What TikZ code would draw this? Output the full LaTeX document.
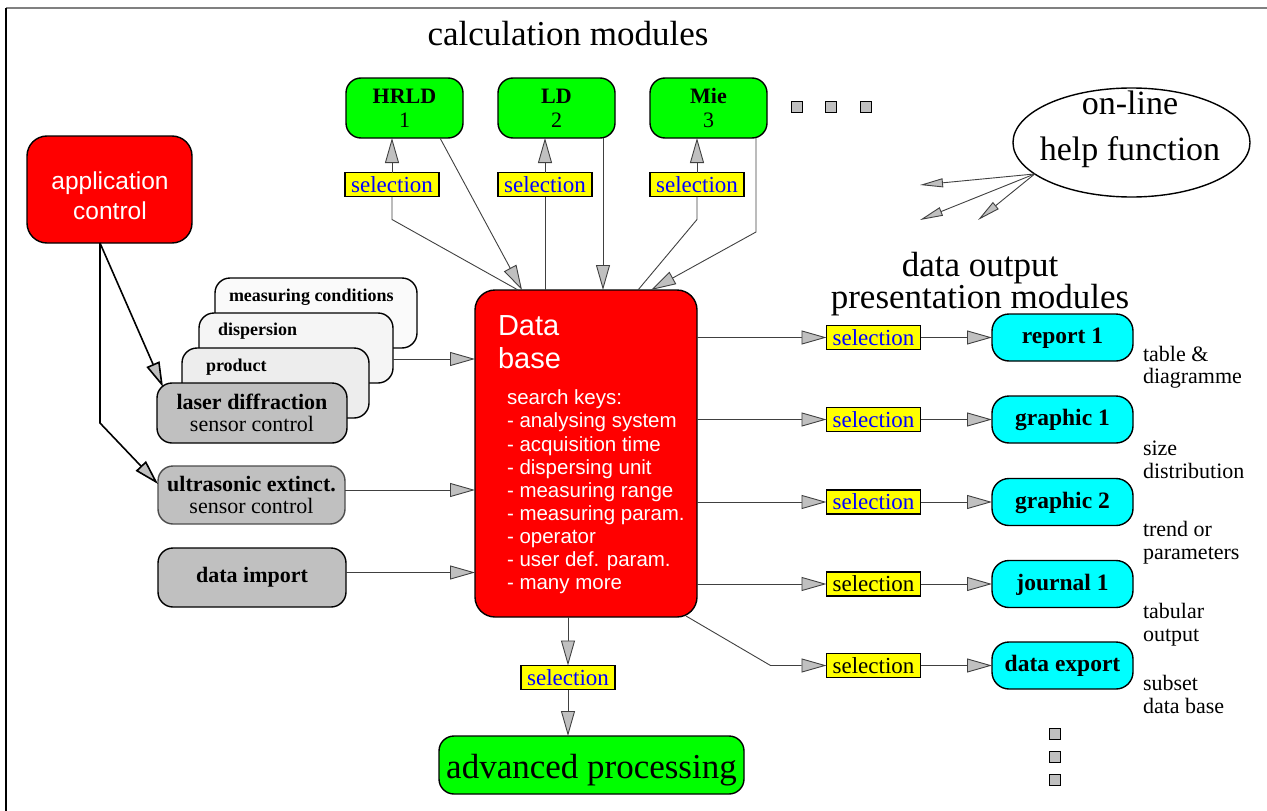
\documentclass[tikz,border=0pt]{standalone}
\usepackage{fontspec}
\setmainfont{Liberation Serif}
\newfontfamily\dbsans{Liberation Sans}
\usetikzlibrary{arrows.meta,shapes.geometric,calc}
\definecolor{boxred}{HTML}{FF0000}
\definecolor{boxgreen}{HTML}{00FF00}
\definecolor{boxcyan}{HTML}{00FFFF}
\definecolor{selyellow}{HTML}{FFFF00}
\definecolor{selblue}{HTML}{0000FF}
\definecolor{boxgray}{HTML}{C0C0C0}
\definecolor{tipgray}{HTML}{C0C0C0}
\definecolor{linegray}{HTML}{404040}
\newcommand\pxfont[2]{\fontsize{#1}{#2}\selectfont}
\begin{document}
\begin{tikzpicture}[x=1pt,y=-1pt,
  every node/.style={inner sep=0pt, outer sep=0pt},
  wh/.style n args={2}{minimum width=#1pt, minimum height=#2pt},
  rbox/.style={draw=black, line width=1.4pt, rounded corners=#1, align=center},
  calcbox/.style={rbox=15pt, fill=boxgreen, font=\pxfont{22}{24}},
  outbox/.style={rbox=17pt, fill=boxcyan, font=\pxfont{23.5}{24}\bfseries, wh={141}{47},
    text height=16pt, text depth=4pt},
  graybox/.style={rbox=15pt, fill=boxgray, font=\pxfont{22}{22}},
  stackbox/.style={rbox=15pt},
  stacklabel/.style={anchor=west, font=\pxfont{18}{20}\bfseries},
  sel/.style={draw=black, line width=1.3pt, fill=selyellow, wh={94}{24},
    font=\pxfont{23}{24}, text=selblue},
  selk/.style={sel, text=black},
  note/.style={anchor=west, align=left, font=\pxfont{22}{22.5}},
  dots/.style={draw=black, line width=1.1pt, fill=boxgray, wh={11}{11}},
  conn/.style={draw=linegray, line width=0.9pt},
  tip/.style={-{Triangle[length=25pt,width=14pt,fill=tipgray]}},
  smalltip/.style={-{Triangle[length=23pt,width=9pt,fill=tipgray]}},
  ctrl/.style={draw=black, line width=1.6pt}
]
\useasboundingbox (0,0) rectangle (1267,811);
% page frame (top and left edges only)
\draw[gray, line width=1.5pt] (6,8) -- (1267,8);
\draw[black, line width=1.5pt] (6,8) -- (6,811);

% ---------- titles ----------
\node[font=\pxfont{35}{36}] (ttlcalc) at (568,34) {calculation modules};
\node[align=center, font=\pxfont{35}{31}] (ttlout) at (980,284) {data output\\presentation modules};

% ---------- calculation modules ----------
\node[calcbox, wh={117}{60}] (hrld) at (404.5,108) {\textbf{HRLD}\\1};
\node[calcbox, wh={117}{60}] (ld)   at (556.5,108) {\textbf{LD}\\2};
\node[calcbox, wh={117}{60}] (mie)  at (708.5,108) {\textbf{Mie}\\3};
\node[dots] (cd1) at (797,107) {};
\node[dots] (cd2) at (831,107) {};
\node[dots] (cd3) at (866,107) {};

\node[sel] (shrld) at (392,184.5) {selection};
\node[sel] (sld)   at (545,184.5) {selection};
\node[sel] (smie)  at (697,184.5) {selection};

% ---------- help ----------
\node[draw=black, line width=1.4pt, ellipse, wh={237}{109}] (help) at (1131.5,142.5) {};
\node[align=center, font=\pxfont{34}{46}] (helptext) at (1130,129) {on-line\\help function};
\coordinate (h1) at (920,185);
\coordinate (h2) at (920,220);
\coordinate (h3) at (978,220);
\draw[conn, smalltip] (help.198) -- (h1);
\draw[conn, smalltip] (help.198) -- (h2);
\draw[conn, smalltip] (help.198) -- (h3);

% ---------- application control ----------
\node[rbox=20pt, fill=boxred, wh={165}{107}] (app) at (109.5,189.5) {};
\node[align=center, text=white, font=\dbsans\pxfont{24.5}{30}] (apptext)
  at (110,196) {application\\control};

% ---------- sensor stack ----------
\node[stackbox, fill=black!2, wh={202}{70}] (meas) at (316,313) {};
\node[stacklabel] (lmeas) at ($(meas.north west)+(14,19)$) {measuring conditions};
\node[stackbox, fill=black!4, wh={194}{70}] (disp) at (296,348) {};
\node[stacklabel] (ldisp) at ($(disp.north west)+(19,18)$) {dispersion};
\node[stackbox, fill=black!7, wh={187}{70}] (prod) at (275.5,383) {};
\node[stacklabel] (lprod) at ($(prod.north west)+(24,19)$) {product};
\node[graybox, wh={190}{60}] (laser) at (252,413) {\textbf{laser diffraction}\\sensor control};
\node[graybox, draw=black!70, wh={187}{58}] (ultra) at (251.5,495) {\textbf{ultrasonic extinct.}\\sensor control};
\node[graybox, wh={188}{59}] (import) at (252,577.5) {\textbf{data import}};

% ---------- data base ----------
\node[rbox=20pt, fill=boxred, wh={222}{327}] (db) at (586,453.5) {};
\node[anchor=north west, align=left, text=white, font=\dbsans\pxfont{29}{32.5}] (dbtitle)
  at (498,316) {Data\\base};
\node[anchor=north west, align=left, text=white, font=\dbsans\pxfont{20.5}{23.1}] (dbkeys)
  at (507,390) {search keys:\\- analysing system\\- acquisition time\\- dispersing unit\\
  - measuring range\\- measuring param.\\- operator\\- user def. param.\\- many more};

% ---------- output modules ----------
\node[sel]  (s1) at (873.5,337.5) {selection};
\node[sel]  (s2) at (873.5,419.5) {selection};
\node[sel]  (s3) at (873.5,502)   {selection};
\node[selk] (s4) at (873.5,584)   {selection};
\node[selk] (s5) at (873.5,665.5) {selection};
\node[outbox] (o1) at (1062.5,337.5) {report 1};
\node[outbox] (o2) at (1062.5,419.5) {graphic 1};
\node[outbox] (o3) at (1062.5,502)   {graphic 2};
\node[outbox] (o4) at (1062.5,584)   {journal 1};
\node[outbox] (o5) at (1062.5,665.5) {data export};
\node[note] (n1) at (1143,367) {table \&\\diagramme};
\node[note] (n2) at (1143,460) {size\\distribution};
\node[note] (n3) at (1143,542.5) {trend or\\parameters};
\node[note] (n4) at (1143,624.5) {tabular\\output};
\node[note] (n5) at (1143,694.5) {subset\\data base};
\node[dots] (od1) at (1055,734) {};
\node[dots] (od2) at (1055,757) {};
\node[dots] (od3) at (1055,780) {};

% ---------- advanced processing ----------
\node[sel] (sadv) at (568,677.5) {selection};
\node[rbox=15pt, fill=boxgreen, wh={305}{58}, font=\pxfont{35}{36},
  text height=30pt, text depth=4pt] (adv) at (591.5,765) {advanced processing};

% ---------- connectors: data base <-> calculation modules ----------
\draw[conn, tip] (shrld.north) -- (shrld.north |- hrld.south);
\draw[conn, tip] (sld.north) -- (sld.north |- ld.south);
\draw[conn, tip] (smie.north) -- (smie.north |- mie.south);
\draw[conn] ($(db.north west)+(43,0)$) -- ($(shrld.south)+(0,23)$) -- (shrld.south);
\draw[conn, tip] ($(hrld.south east)+(-23,0)$) -- ($(db.north west)+(47,0)$);
\draw[conn] (db.north -| sld.south) -- (sld.south);
\draw[conn, tip] ($(ld.south east)+(-12,0)$) -- ($(db.north west)+(128,0)$);
\draw[conn] ($(db.north west)+(163,0)$) -- ($(smie.south)+(0,23)$) -- (smie.south);
\draw[conn, tip] ($(mie.south east)+(-11,0)$) -- ($(mie.south east)+(-11,94)$) -- ($(db.north west)+(176,0)$);

% ---------- connectors: inputs -> data base ----------
\draw[conn, tip] ($(disp.east)+(0,11)$) coordinate (dq) -- (dq -| db.west);
\draw[conn, tip] ($(ultra.east)+(0,-5)$) coordinate (uq) -- (uq -| db.west);
\draw[conn, tip] ($(import.east)+(0,-5)$) coordinate (iq) -- (iq -| db.west);

% ---------- connectors: application control ----------
\coordinate (ap) at ($(app.south)+(-9.5,0)$);
\draw[ctrl, tip] (ap) -- ($(laser.north west)+(6,4)$);
\draw[ctrl, tip] (ap) -- ($(ap)+(0,180)$) -- ($(ultra.west)+(0,-11)$);

% ---------- connectors: data base -> outputs ----------
\draw[conn, tip] (db.east |- s1.west) -- (s1.west);
\draw[conn, tip] (db.east |- s2.west) -- (s2.west);
\draw[conn, tip] (db.east |- s3.west) -- (s3.west);
\draw[conn, tip] (db.east |- s4.west) -- (s4.west);
\draw[conn, tip] ($(db.south east)+(-11,-1)$) -- ($(s5.west)+(-56,0)$) -- (s5.west);
\draw[conn, tip] (s1.east) -- (o1.west);
\draw[conn, tip] (s2.east) -- (o2.west);
\draw[conn, tip] (s3.east) -- (o3.west);
\draw[conn, tip] (s4.east) -- (o4.west);
\draw[conn, tip] (s5.east) -- (o5.west);

% ---------- connectors: data base -> advanced processing ----------
\draw[conn, tip] (db.south -| sadv.north) -- (sadv.north);
\draw[conn, tip] (sadv.south) -- (sadv.south |- adv.north);
\end{tikzpicture}
\end{document}
